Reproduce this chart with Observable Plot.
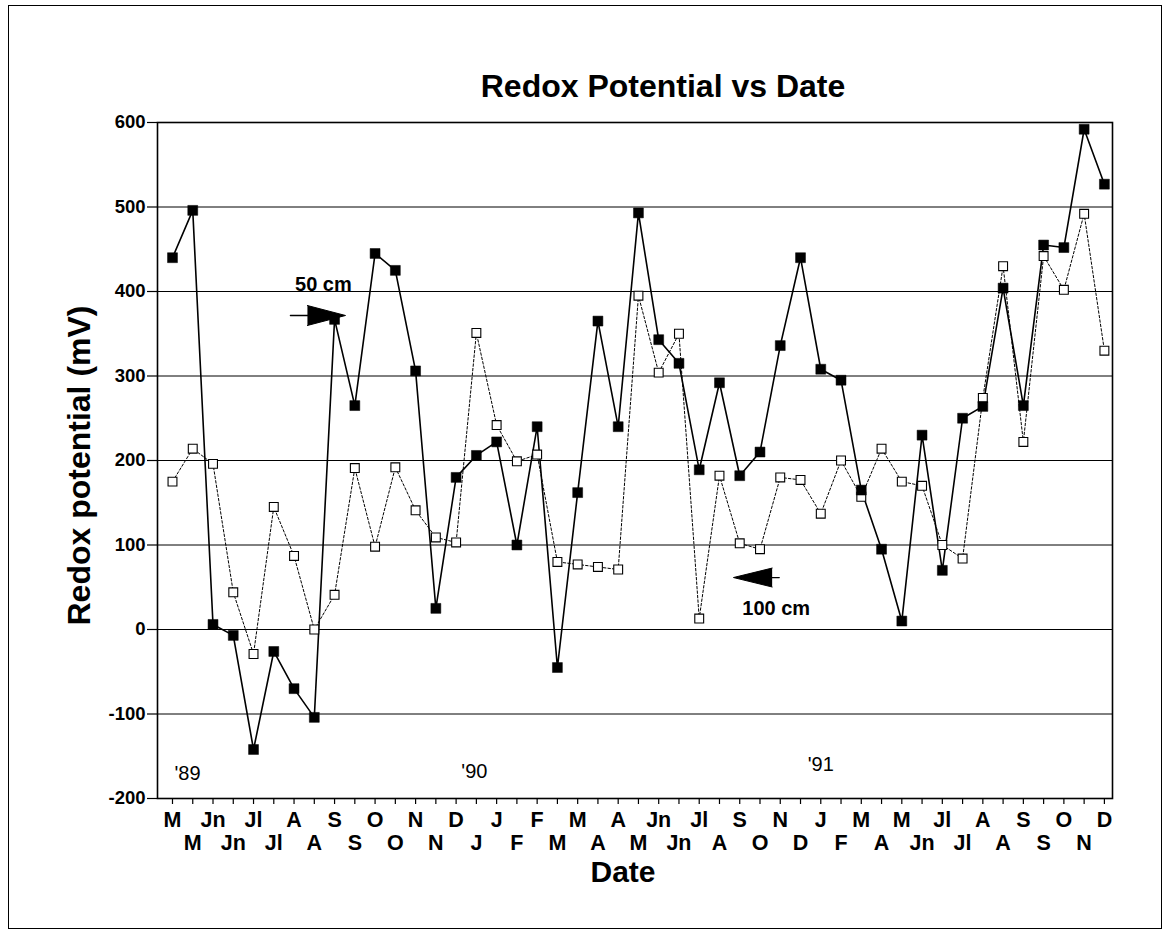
<!DOCTYPE html>
<html><head><meta charset="utf-8">
<script src="https://cdn.jsdelivr.net/npm/d3@7"></script>
<script src="https://cdn.jsdelivr.net/npm/@observablehq/plot@0.6"></script>
<style>
html,body{margin:0;padding:0;background:#fff;}
#wrap{position:relative;width:1166px;height:936px;}
#border{position:absolute;left:8px;top:5px;width:1154px;height:924px;border:1.5px solid #000;box-sizing:border-box;pointer-events:none;}
</style></head><body><div id="wrap"><div id="border"></div></div>
<script>
// Sampling dates (month initials), alternating rows on the axis
const monthLabels = ["M","M","Jn","Jn","Jl","Jl","A","A","S","S","O","O","N","N","D","J","J","F","F","M","M","A","A","M","Jn","Jn","Jl","A","S","O","N","D","J","F","M","A","M","Jn","Jl","Jl","A","A","S","S","O","N","D"];
// Redox potential (mV) at 50 cm (filled squares, solid line)
const depth50 = [440,496,6,-7,-142,-26,-70,-104,367,265,445,425,306,25,180,206,222,100,240,-45,162,365,240,493,343,315,189,292,182,210,336,440,308,295,165,95,10,230,70,250,264,404,265,455,452,592,527];
// Redox potential (mV) at 100 cm (open squares, dotted line)
const depth100 = [175,214,196,44,-29,145,87,0,41,191,98,192,141,109,103,351,242,199,207,80,77,74,71,395,304,350,13,182,102,95,180,177,137,200,157,214,175,170,100,84,274,430,222,442,402,492,330];
const yTicks = [-200,-100,0,100,200,300,400,500,600];
const gridValues = [-100,0,100,200,300,400,500];
const yearLabels = [{i:0.74,v:-170,t:"'89"},{i:14.9,v:-168,t:"'90"},{i:32.0,v:-160,t:"'91"}];
const depthLabels = [{i:7.45,v:408,t:"50 cm"},{i:29.8,v:25,t:"100 cm"}];
const arrow50Head = [{i:6.66,v:383.4},{i:8.54,v:371.6},{i:6.66,v:359.8}];
const arrow50Shaft = [{i:5.82,v:371.6},{i:6.8,v:371.6}];
const arrow100Head = [{i:29.6,v:72.7},{i:27.69,v:61.5},{i:29.6,v:50.3}];
const arrow100Shaft = [{i:29.4,v:61.5},{i:29.95,v:61.5}];

const rows = monthLabels.map((m, i) => ({i, m, a: depth50[i], b: depth100[i]}));
const evenIdx = rows.filter(d => d.i % 2 === 0).map(d => d.i);
const oddIdx = rows.filter(d => d.i % 2 === 1).map(d => d.i);
const narrow = "'Liberation Sans Narrow', 'Arial Narrow', 'Liberation Sans', Arial, sans-serif";

const chart = Plot.plot({
  width: 1166,
  height: 936,
  marginLeft: 157,
  marginRight: 54,
  marginTop: 122,
  marginBottom: 138,
  style: {fontFamily: "'Liberation Sans', Arial, Helvetica, sans-serif", background: "white", color: "black"},
  x: {type: "linear", domain: [-0.74, 46.4]},
  y: {domain: [-200, 600]},
  marks: [
    Plot.ruleY(gridValues, {stroke: "black", strokeWidth: 1}),
    Plot.frame({stroke: "black", strokeWidth: 1.6}),
    Plot.axisY(yTicks, {tickSize: 10, tickPadding: 2, fontSize: 18.5, fontWeight: "bold", tickFormat: d => String(d), label: null, strokeWidth: 1.2}),
    Plot.axisX(evenIdx, {tickSize: 6, tickPadding: 7, fontSize: 21.5, fontWeight: "bold", fontFamily: narrow, tickFormat: i => monthLabels[i], label: null, strokeWidth: 1.2}),
    Plot.axisX(oddIdx, {tickSize: 6, tickPadding: 30, fontSize: 21.5, fontWeight: "bold", fontFamily: narrow, tickFormat: i => monthLabels[i], label: null, strokeWidth: 1.2}),
    Plot.line(rows, {x: "i", y: "b", stroke: "black", strokeWidth: 1, strokeDasharray: "2.5,2"}),
    Plot.line(rows, {x: "i", y: "a", stroke: "black", strokeWidth: 1.6}),
    Plot.dot(rows, {x: "i", y: "b", symbol: "square", r: 5, fill: "white", stroke: "black", strokeWidth: 1.1}),
    Plot.dot(rows, {x: "i", y: "a", symbol: "square", r: 5.6, fill: "black", stroke: "black", strokeWidth: 0.5}),
    Plot.line(arrow50Shaft, {x: "i", y: "v", stroke: "black", strokeWidth: 1.3}),
    Plot.line(arrow50Head, {x: "i", y: "v", fill: "black", stroke: "black", strokeWidth: 1}),
    Plot.line(arrow100Shaft, {x: "i", y: "v", stroke: "black", strokeWidth: 1.3}),
    Plot.line(arrow100Head, {x: "i", y: "v", fill: "black", stroke: "black", strokeWidth: 1}),
    Plot.text(depthLabels, {x: "i", y: "v", text: "t", fontSize: 20, fontWeight: "bold", fill: "black"}),
    Plot.text(yearLabels, {x: "i", y: "v", text: "t", fontSize: 20, fill: "black"}),
    Plot.text(["Redox Potential vs Date"], {text: d => d, frameAnchor: "top", dx: 28, dy: -36, lineAnchor: "middle", fontSize: 32, fontWeight: "bold", fill: "black"}),
    Plot.text(["Date"], {text: d => d, frameAnchor: "bottom", dx: -12, dy: 74, lineAnchor: "middle", fontSize: 30, fontWeight: "bold", fill: "black"}),
    Plot.text(["Redox potential (mV)"], {text: d => d, frameAnchor: "left", dx: -78, dy: 5, rotate: -90, textAnchor: "middle", lineAnchor: "middle", fontSize: 32, fontWeight: "bold", fill: "black"})
  ]
});
document.getElementById("wrap").insertBefore(chart, document.getElementById("border"));
</script>
</body></html>
